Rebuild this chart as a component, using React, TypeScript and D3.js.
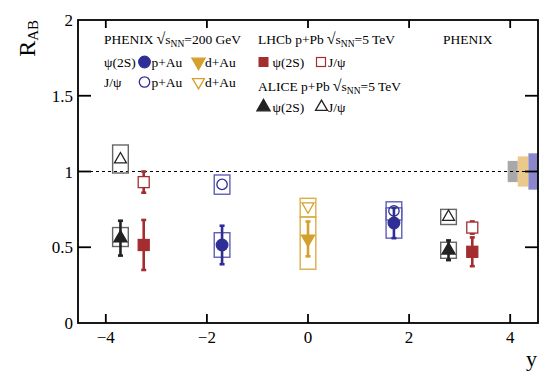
import React from 'react';
import * as d3 from 'd3';

// tick values
const xTicks = [-4, -2, 0, 2, 4];
const yTicks = [0, 0.5, 1, 1.5, 2];
const yTickLabels = ['0', '0.5', '1', '1.5', '2'];

// ALICE p+Pb 5 TeV
const aliceY = [-3.71, 2.78];
const aliceJpsi = [1.08, 0.70];
const aliceJpsiStat = [0.02, 0.02];
const aliceJpsiSysUp = [0.095, 0.05];
const aliceJpsiSysDown = [0.09, 0.05];
const alicePsi2S = [0.56, 0.48];
const alicePsi2SStat = [0.115, 0.065];
const alicePsi2SSysUp = [0.07, 0.053];
const alicePsi2SSysDown = [0.055, 0.053];

// LHCb p+Pb 5 TeV
const lhcbY = [-3.25, 3.25];
const lhcbJpsi = [0.93, 0.63];
const lhcbJpsiStat = [0.07, 0.04];
const lhcbPsi2S = [0.515, 0.47];
const lhcbPsi2SStat = [0.165, 0.095];

// PHENIX p+Au 200 GeV
const pAuY = [-1.7, 1.7];
const pAuJpsi = [0.915, 0.74];
const pAuJpsiStat = [0.01, 0.03];
const pAuJpsiSysUp = [0.062, 0.06];
const pAuJpsiSysDown = [0.065, 0.06];
const pAuPsi2S = [0.515, 0.66];
const pAuPsi2SStat = [0.127, 0.10];
const pAuPsi2SSysUp = [0.081, 0.10];
const pAuPsi2SSysDown = [0.081, 0.10];

// PHENIX d+Au 200 GeV
const dAuY = [0];
const dAuJpsi = [0.77];
const dAuJpsiSysUp = [0.053];
const dAuJpsiSysDown = [0.07];
const dAuPsi2S = [0.555];
const dAuPsi2SStat = [0.115];
const dAuPsi2SSysUp = [0.145];
const dAuPsi2SSysDown = [0.2];

// global uncertainties around unity: ALICE, d+Au, p+Au
const globalSys = [0.07, 0.10, 0.12];
const globalX0 = [3.95, 4.15, 4.36];
const globalX1 = [4.15, 4.36, 4.55];

const BLUE = '#2e2e94';
const BLUE_BOX = '#5f5fb8';
const GOLD = '#d4a02e';
const GOLD_BOX = '#dcac46';
const RED = '#a42d2f';
const BLACK = '#222';
const GRAY_BOX = '#666';
const globalFill = ['#a8a8a8', '#eac98b', '#8b87cc'];

const W = 550;
const H = 380;
const L = 78, R = 538, T = 20, B = 323;
const FONT = 'Liberation Serif, DejaVu Serif, serif';

const x = d3.scaleLinear().domain([-4.55, 4.55]).range([L, R]);
const y = d3.scaleLinear().domain([0, 2]).range([B, T]);

const boxHalf = 0.155; // rapidity units

type Kind = 'circle' | 'tri' | 'tridown' | 'square';

const triPath = d3.symbol().type(d3.symbolTriangle).size(75)() as string;
const triSmall = d3.symbol().type(d3.symbolTriangle).size(62)() as string;

const Marker: React.FC<{ kind: Kind; cx: number; cy: number; color: string; filled: boolean; }> = ({ kind, cx, cy, color, filled }) => {
  const fill = filled ? color : 'white';
  const sw = 1.3;
  if (kind === 'circle') return <circle cx={cx} cy={cy} r={filled ? 5.8 : 5.2} fill={filled ? fill : 'none'} stroke={color} strokeWidth={sw} />;
  if (kind === 'square') return <rect x={cx - 5.5} y={cy - 5.5} width={11} height={11} fill={fill} stroke={color} strokeWidth={sw} />;
  const p = filled ? triPath : triSmall;
  return <path d={p} transform={`translate(${cx},${cy})${kind === 'tridown' ? ' rotate(180)' : ''}`} fill={fill} stroke={color} strokeWidth={sw} />;
};

const SysBoxes: React.FC<{ xs: number[]; vals: number[]; up: number[]; down: number[]; color: string }> = ({ xs, vals, up, down, color }) => (
  <g>
    {xs.map((xv, i) => (
      <rect key={i} x={x(xv - boxHalf)} y={y(vals[i] + up[i])} width={x(xv + boxHalf) - x(xv - boxHalf)}
        height={y(vals[i] - down[i]) - y(vals[i] + up[i])} fill="none" stroke={color} strokeWidth={1.4} />
    ))}
  </g>
);

// error bars shorter than the marker are hidden by it (ROOT-like)
const ErrBars: React.FC<{ xs: number[]; vals: number[]; err: number[]; color: string }> = ({ xs, vals, err, color }) => (
  <g stroke={color}>
    {xs.map((xv, i) => {
      const top = y(vals[i] + err[i]);
      const bot = y(vals[i] - err[i]);
      if (bot - top < 12) return null;
      return (
        <g key={i}>
          <line x1={x(xv)} x2={x(xv)} y1={top} y2={bot} strokeWidth={2.6} />
          <line x1={x(xv) - 2.5} x2={x(xv) + 2.5} y1={top} y2={top} strokeWidth={2.6} />
          <line x1={x(xv) - 2.5} x2={x(xv) + 2.5} y1={bot} y2={bot} strokeWidth={2.6} />
        </g>
      );
    })}
  </g>
);

const Markers: React.FC<{ xs: number[]; vals: number[]; kind: Kind; color: string; filled: boolean }> = ({ xs, vals, kind, color, filled }) => (
  <g>
    {xs.map((xv, i) => <Marker key={i} kind={kind} cx={x(xv)} cy={y(vals[i])} color={color} filled={filled} />)}
  </g>
);

const Sqrt: React.FC<{ e: string }> = ({ e }) => (
  <>
    <tspan fontSize={16} dx={3}>√</tspan>
    <tspan>s</tspan>
    <tspan fontSize={9.5} dy={3}>NN</tspan>
    <tspan dy={-3}>{e}</tspan>
  </>
);

export default function App() {
  const fs = 13.5;
  return (
    <svg width={W} height={H} style={{ position: 'fixed', left: 0, top: 0, background: 'white', fontFamily: FONT }}>
      {/* global uncertainty boxes */}
      {globalSys.map((g, i) => (
        <rect key={i} x={x(globalX0[i])} y={y(1 + g)} width={x(globalX1[i]) - x(globalX0[i])} height={y(1 - g) - y(1 + g)} fill={globalFill[i]} />
      ))}

      {/* unity line */}
      <line x1={L} x2={R} y1={y(1)} y2={y(1)} stroke="#000" strokeWidth={1} strokeDasharray="3,3" />

      {/* systematic boxes */}
      <SysBoxes xs={aliceY} vals={aliceJpsi} up={aliceJpsiSysUp} down={aliceJpsiSysDown} color={GRAY_BOX} />
      <SysBoxes xs={aliceY} vals={alicePsi2S} up={alicePsi2SSysUp} down={alicePsi2SSysDown} color={GRAY_BOX} />
      <SysBoxes xs={pAuY} vals={pAuJpsi} up={pAuJpsiSysUp} down={pAuJpsiSysDown} color={BLUE_BOX} />
      <SysBoxes xs={pAuY} vals={pAuPsi2S} up={pAuPsi2SSysUp} down={pAuPsi2SSysDown} color={BLUE_BOX} />
      <SysBoxes xs={dAuY} vals={dAuJpsi} up={dAuJpsiSysUp} down={dAuJpsiSysDown} color={GOLD_BOX} />
      <SysBoxes xs={dAuY} vals={dAuPsi2S} up={dAuPsi2SSysUp} down={dAuPsi2SSysDown} color={GOLD_BOX} />

      {/* statistical error bars */}
      <ErrBars xs={aliceY} vals={aliceJpsi} err={aliceJpsiStat} color={BLACK} />
      <ErrBars xs={aliceY} vals={alicePsi2S} err={alicePsi2SStat} color={BLACK} />
      <ErrBars xs={lhcbY} vals={lhcbJpsi} err={lhcbJpsiStat} color={RED} />
      <ErrBars xs={lhcbY} vals={lhcbPsi2S} err={lhcbPsi2SStat} color={RED} />
      <ErrBars xs={pAuY} vals={pAuJpsi} err={pAuJpsiStat} color={BLUE} />
      <ErrBars xs={pAuY} vals={pAuPsi2S} err={pAuPsi2SStat} color={BLUE} />
      <ErrBars xs={dAuY} vals={dAuPsi2S} err={dAuPsi2SStat} color={GOLD} />

      {/* markers */}
      <Markers xs={aliceY} vals={aliceJpsi} kind="tri" color={BLACK} filled={false} />
      <Markers xs={aliceY} vals={alicePsi2S} kind="tri" color={BLACK} filled />
      <Markers xs={lhcbY} vals={lhcbJpsi} kind="square" color={RED} filled={false} />
      <Markers xs={lhcbY} vals={lhcbPsi2S} kind="square" color={RED} filled />
      <Markers xs={pAuY} vals={pAuJpsi} kind="circle" color={BLUE} filled={false} />
      <Markers xs={pAuY} vals={pAuPsi2S} kind="circle" color={BLUE} filled />
      <Markers xs={dAuY} vals={dAuJpsi} kind="tridown" color={GOLD} filled={false} />
      <Markers xs={dAuY} vals={dAuPsi2S} kind="tridown" color={GOLD} filled />

      {/* frame and ticks */}
      <rect x={L} y={T} width={R - L} height={B - T} fill="none" stroke="#000" strokeWidth={1.8} />
      {xTicks.map(t => (
        <g key={t}>
          <line x1={x(t)} x2={x(t)} y1={B} y2={B - 9} stroke="#000" strokeWidth={1.8} />
          <line x1={x(t)} x2={x(t)} y1={T} y2={T + 8} stroke="#000" strokeWidth={1.8} />
          <text x={x(t)} y={343} textAnchor="middle" fontSize={17}>{t < 0 ? `−${-t}` : `${t}`}</text>
        </g>
      ))}
      {yTicks.map((t, i) => (
        <g key={t}>
          {t > 0 && t < 2 && <line x1={L} x2={L + 13} y1={y(t)} y2={y(t)} stroke="#000" strokeWidth={1.8} />}
          {t > 0 && t < 2 && <line x1={R - 13} x2={R} y1={y(t)} y2={y(t)} stroke="#000" strokeWidth={1.8} />}
          <text x={73} y={y(t) + 6} textAnchor="end" fontSize={17}>{yTickLabels[i]}</text>
        </g>
      ))}

      {/* axis titles */}
      <text transform={`translate(35,${T}) rotate(-90)`} textAnchor="end" fontSize={24}>
        R<tspan fontSize={15} dy={3}>AB</tspan>
      </text>
      <text x={537} y={366} textAnchor="end" fontSize={22}>y</text>

      {/* legend */}
      <g fontSize={fs}>
        <text x={104} y={44}>PHENIX<Sqrt e="=200 GeV" /></text>
        <text x={104} y={67}>ψ(2S)</text>
        <Marker kind="circle" cx={144.5} cy={62} color={BLUE} filled />
        <text x={151.5} y={67}>p+Au</text>
        <Marker kind="tridown" cx={198.5} cy={62} color={GOLD} filled />
        <text x={205} y={67}>d+Au</text>
        <text x={104} y={87}>J/ψ</text>
        <Marker kind="circle" cx={144.5} cy={82} color={BLUE} filled={false} />
        <text x={151.5} y={87}>p+Au</text>
        <Marker kind="tridown" cx={198.5} cy={82} color={GOLD} filled={false} />
        <text x={205} y={87}>d+Au</text>

        <text x={258} y={44}>LHCb p+Pb<Sqrt e="=5 TeV" /></text>
        <rect x={258.5} y={57} width={10} height={10} fill={RED} />
        <text x={272.5} y={67}>ψ(2S)</text>
        <rect x={316.5} y={57.5} width={9} height={9} fill="none" stroke={RED} strokeWidth={1.2} />
        <text x={328} y={67}>J/ψ</text>
        <text x={258} y={91}>ALICE p+Pb<Sqrt e="=5 TeV" /></text>
        <Marker kind="tri" cx={263.5} cy={107} color={BLACK} filled />
        <text x={272.5} y={112}>ψ(2S)</text>
        <Marker kind="tri" cx={321.5} cy={107} color={BLACK} filled={false} />
        <text x={328} y={112}>J/ψ</text>

        <text x={443} y={44}>PHENIX</text>
      </g>
    </svg>
  );
}
